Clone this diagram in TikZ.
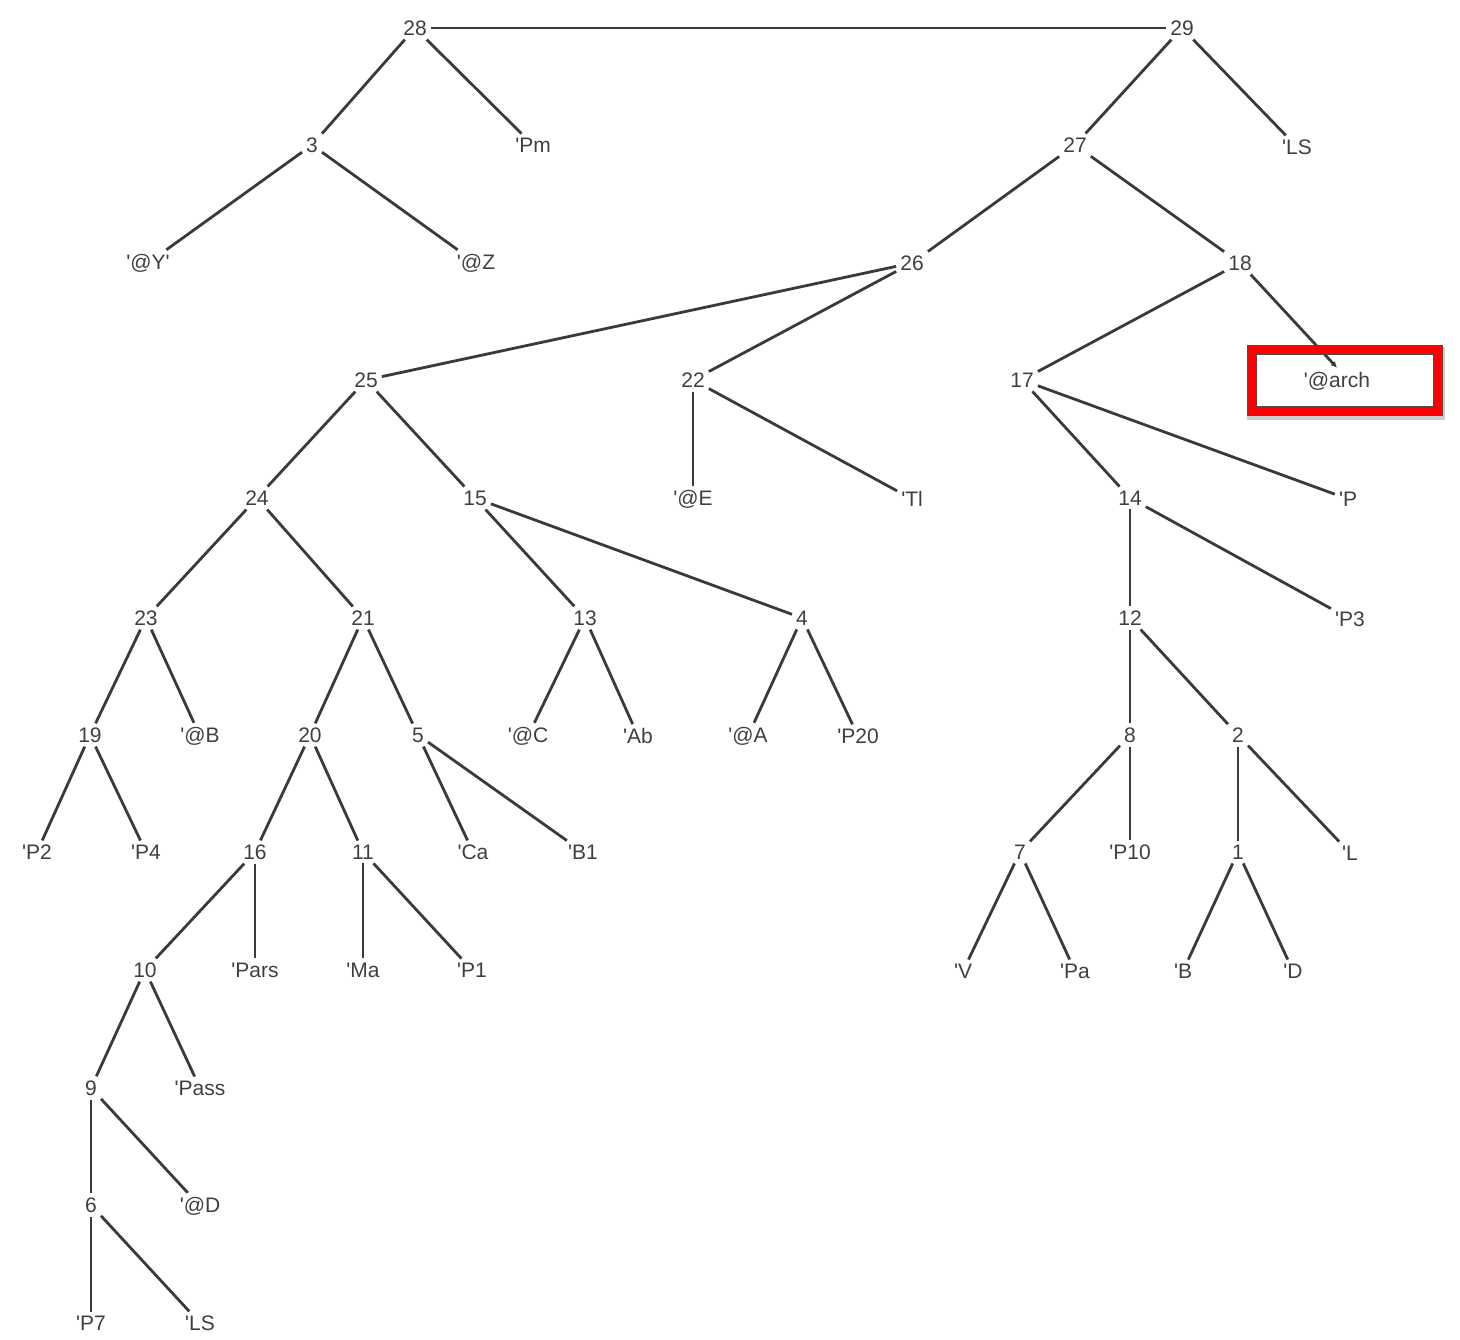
\documentclass[tikz,border=0pt]{standalone}
\usepackage{fontspec}
\setmainfont{Liberation Sans}
\usetikzlibrary{arrows.meta}
\newcommand{\q}{\textquotesingle}
\definecolor{txtgray}{HTML}{3F3F3F}
\definecolor{edgegray}{HTML}{3A3A3A}
\begin{document}
\begin{tikzpicture}[x=1pt,y=-1pt,
  lbl/.style={inner sep=4pt, text=txtgray, font=\fontsize{21}{24}\selectfont},
  edge/.style={draw=edgegray, line width=2.8pt}]
\useasboundingbox (0,0) rectangle (1460,1340);
% row 0
\node[lbl] (n28) at (415,28) {28};
\node[lbl] (n29) at (1182,28) {29};
% row 1
\node[lbl] (n3) at (312,145) {3};
\node[lbl] (pm) at (533,145) {\q Pm};
\node[lbl] (n27) at (1075,145) {27};
\node[lbl] (lsA) at (1297,147) {\q LS};
% row 2
\node[lbl] (atY) at (148,263) {\q @Y\q};
\node[lbl] (atZ) at (476,263) {\q @Z};
\node[lbl] (n26) at (912,263) {26};
\node[lbl] (n18) at (1240,263) {18};
% row 3
\node[lbl] (n25) at (366,380) {25};
\node[lbl] (n22) at (693,380) {22};
\node[lbl] (n17) at (1022,380) {17};
\node[lbl] (arch) at (1337,381) {\q @arch};
% row 4
\node[lbl] (n24) at (257,498) {24};
\node[lbl] (n15) at (475,498) {15};
\node[lbl] (atE) at (693,499) {\q @E};
\node[lbl] (tl) at (912,499) {\q Tl};
\node[lbl] (n14) at (1130,498) {14};
\node[lbl] (pp) at (1348,499) {\q P};
% row 5
\node[lbl] (n23) at (146,618) {23};
\node[lbl] (n21) at (363,618) {21};
\node[lbl] (n13) at (585,618) {13};
\node[lbl] (n4) at (802,618) {4};
\node[lbl] (n12) at (1130,618) {12};
\node[lbl] (p3) at (1350,619) {\q P3};
% row 6
\node[lbl] (n19) at (90,735) {19};
\node[lbl] (atB) at (200,736) {\q @B};
\node[lbl] (n20) at (310,735) {20};
\node[lbl] (n5) at (418,735) {5};
\node[lbl] (atC) at (528,736) {\q @C};
\node[lbl] (ab) at (638,736) {\q Ab};
\node[lbl] (atA) at (748,736) {\q @A};
\node[lbl] (p20) at (858,736) {\q P20};
\node[lbl] (n8) at (1130,735) {8};
\node[lbl] (n2) at (1238,735) {2};
% row 7
\node[lbl] (p2) at (37,852) {\q P2};
\node[lbl] (p4) at (146,852) {\q P4};
\node[lbl] (n16) at (255,852) {16};
\node[lbl] (n11) at (363,852) {11};
\node[lbl] (ca) at (473,852) {\q Ca};
\node[lbl] (b1) at (583,852) {\q B1};
\node[lbl] (n7) at (1020,852) {7};
\node[lbl] (p10) at (1130,852) {\q P10};
\node[lbl] (n1) at (1238,852) {1};
\node[lbl] (ll) at (1350,853) {\q L};
% row 8
\node[lbl] (n10) at (145,970) {10};
\node[lbl] (pars) at (255,970) {\q Pars};
\node[lbl] (ma) at (363,970) {\q Ma};
\node[lbl] (p1) at (472,970) {\q P1};
\node[lbl] (vv) at (963,971) {\q V};
\node[lbl] (pa) at (1075,971) {\q Pa};
\node[lbl] (bb) at (1183,971) {\q B};
\node[lbl] (dd) at (1293,971) {\q D};
% rows 9--11
\node[lbl] (n9) at (91,1088) {9};
\node[lbl] (pass) at (200,1088) {\q Pass};
\node[lbl] (n6) at (91,1205) {6};
\node[lbl] (atD) at (200,1206) {\q @D};
\node[lbl] (p7) at (91,1323) {\q P7};
\node[lbl] (lsB) at (200,1323) {\q LS};

% edges
\draw[edge] (n28) -- (n29);
\foreach \a/\b in {n28/n3, n28/pm, n3/atY, n3/atZ, n29/n27, n29/lsA,
  n27/n26, n27/n18, n26/n25, n26/n22, n18/n17,
  n25/n24, n25/n15, n22/atE, n22/tl, n17/n14, n17/pp,
  n24/n23, n24/n21, n15/n13, n15/n4, n14/n12, n14/p3,
  n23/n19, n23/atB, n21/n20, n21/n5, n13/atC, n13/ab, n4/atA, n4/p20,
  n12/n8, n12/n2, n19/p2, n19/p4, n20/n16, n20/n11, n5/ca, n5/b1,
  n8/n7, n8/p10, n2/n1, n2/ll, n16/n10, n16/pars, n11/ma, n11/p1,
  n7/vv, n7/pa, n1/bb, n1/dd, n10/n9, n10/pass, n9/n6, n9/atD,
  n6/p7, n6/lsB}
  \draw[edge] (\a) -- (\b);
\draw[edge, -{Latex[length=6pt,width=6pt]}] (n18) -- (arch.north);

% highlight frame with a soft shadow
\draw[black!20, line width=4pt] (1249,349) rectangle (1443,418);
\draw[draw=black!70, line width=1.2pt, double=red, double distance=7.5pt]
  (1252,350) rectangle (1438,411);
\end{tikzpicture}
\end{document}
